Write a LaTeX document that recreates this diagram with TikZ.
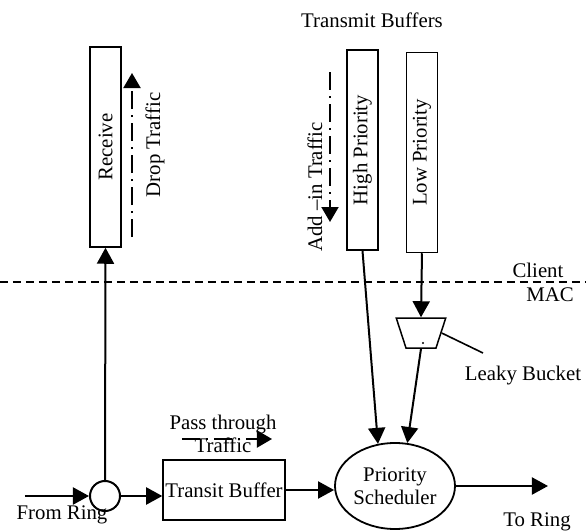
\documentclass[tikz,border=0pt]{standalone}
\usepackage{fontspec}
\setmainfont{Liberation Serif}
\usetikzlibrary{shapes.geometric}
\usetikzlibrary{positioning}
\usetikzlibrary{calc}
\usetikzlibrary{arrows.meta}

\tikzset{
  buffer/.style={draw, line width=0.75pt, rotate=90, minimum width=100pt,
                 minimum height=15.5pt, inner sep=0pt},
  flow/.style={line width=1pt, -{Triangle[length=8pt,width=8.5pt]}},
  traffic/.style={line width=1pt, dash pattern=on 9pt off 3pt on 1pt off 3pt,
                  -{Triangle[length=7.5pt,width=8.5pt]}},
}

\begin{document}
\begin{tikzpicture}[x=0.5pt, y=-0.5pt, font=\fontsize{10.4}{11.5}\selectfont]

\useasboundingbox (0,0) rectangle (586,531);

%---------------------------------------
% Client / MAC boundary
%---------------------------------------
\draw[line width=0.8pt, dash pattern=on 4pt off 2.5pt] (0,282) -- (586,282);
\node (client) at (538,270) {Client};
\node (mac)    at (550,295) {MAC};

%---------------------------------------
% Buffers (client side)
%---------------------------------------
\node[buffer] (recv) at (105.5,147)  {Receive};
\node[buffer] (hi)   at (362.5,150)  {High Priority};
\node[buffer] (lo)   at (422,152.5)  {Low Priority};
\node (txbuf) at (372,20) {Transmit Buffers};

% Drop / add-in traffic
\coordinate (dropA) at (132,237);
\coordinate (dropB) at (132,73);
\draw[traffic] (dropA) -- (dropB);
\node[rotate=90] (droplbl) at (155,145) {Drop Traffic};

\coordinate (addA) at (330,72);
\coordinate (addB) at (330,222);
\draw[traffic] (addA) -- (addB);
\node[rotate=90] (addlbl) at (315,187) {Add --in Traffic};

%---------------------------------------
% MAC side
%---------------------------------------
\node[draw, circle, line width=1pt, minimum size=15pt, inner sep=0pt] (ring) at (105,496) {};
\node[draw, line width=0.75pt, minimum width=61pt, minimum height=30pt, inner sep=0pt]
      (tbuf) at (224,490) {Transit Buffer};
\node[draw, ellipse, line width=0.9pt, minimum width=60pt, minimum height=43pt,
      inner sep=0pt, align=center] (sched) at (395,486) {Priority\\Scheduler};

% Leaky bucket
\node[draw, trapezium, trapezium angle=72, shape border rotate=180, line width=0.75pt,
      minimum width=22.5pt, minimum height=15pt, inner sep=1pt] (bucket) at (421,333) {};
\fill (423,343) circle (0.6pt);
\node (bucketlbl) at (523,376) {Leaky Bucket};
\coordinate (bucketpt) at (483,353);
\draw[line width=0.8pt] (bucket.east) -- (bucketpt);

% Pass through traffic
\node[align=center] (passlbl) at (223,434) {Pass through\\Traffic};
\coordinate (passA) at (182,439);
\coordinate (passB) at (272,439);
\draw[traffic] (passA) -- (passB);

% Ring in / out
\coordinate (fromring) at (25,496);
\coordinate (toring)   at (548,483);
\node (fromlbl) at (62,515)  {From Ring};
\node (tolbl)   at (537,522) {To Ring};

%---------------------------------------
% Connectors
%---------------------------------------
\draw[flow] (fromring) -- (ring.west);
\draw[flow] (ring.north) -- (recv.west);
\draw[flow] (ring.east) -- (ring.east -| tbuf.west);
\draw[flow] (tbuf.east) -- (tbuf.east -| sched.west);
\draw[flow] (sched.east) -- (sched.east -| toring);
\draw[flow] (hi.west) -- (sched.112);
\draw[flow] (lo.west) -- (bucket.north);
\draw[flow] (bucket.south) -- (sched.74);

\end{tikzpicture}
\end{document}
